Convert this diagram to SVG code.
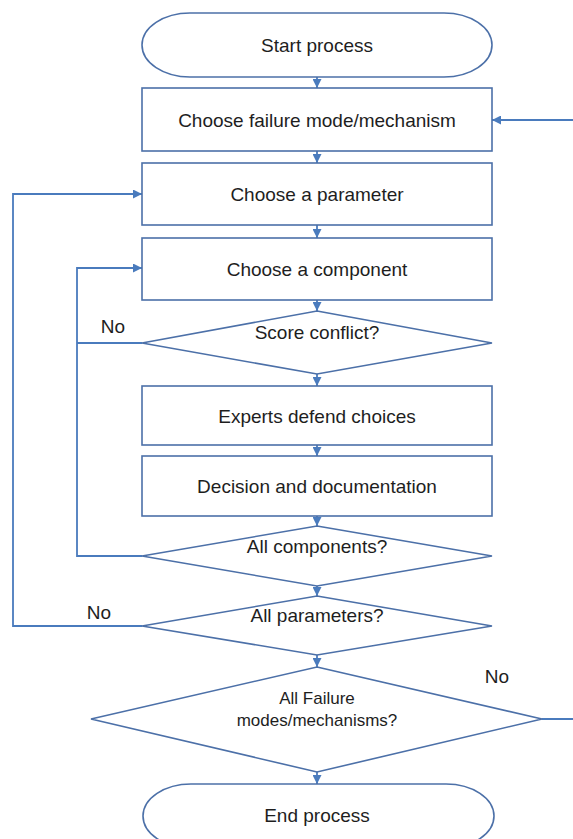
<svg xmlns="http://www.w3.org/2000/svg" width="573" height="839" viewBox="0 0 573 839">
<style>
.shape{fill:#ffffff;stroke:#4c70a8;stroke-width:1.6}
.conn{fill:none;stroke:#4a7bbd;stroke-width:1.8}
text{font-family:"Liberation Sans",Arial,sans-serif;font-size:19px;fill:#1e1e1e;text-anchor:middle}
.small{font-size:17px}
</style>
<defs>
<marker id="arr" viewBox="0 0 10 10" refX="10" refY="5" markerWidth="5" markerHeight="5" orient="auto" markerUnits="strokeWidth">
<path d="M0,0 L10,5 L0,10 Z" fill="#4a7bbd"/>
</marker>
</defs>
<rect width="573" height="839" fill="#ffffff"/>
<g id="connectors">
<line class="conn" x1="317" y1="77" x2="317" y2="88" marker-end="url(#arr)"/>
<line class="conn" x1="317" y1="151" x2="317" y2="163" marker-end="url(#arr)"/>
<line class="conn" x1="317" y1="225" x2="317" y2="238" marker-end="url(#arr)"/>
<line class="conn" x1="317" y1="300" x2="317" y2="311" marker-end="url(#arr)"/>
<line class="conn" x1="317" y1="374" x2="317" y2="386" marker-end="url(#arr)"/>
<line class="conn" x1="317" y1="445" x2="317" y2="456" marker-end="url(#arr)"/>
<line class="conn" x1="317" y1="516" x2="317" y2="526" marker-end="url(#arr)"/>
<line class="conn" x1="317" y1="586" x2="317" y2="596" marker-end="url(#arr)"/>
<line class="conn" x1="317" y1="655" x2="317" y2="667" marker-end="url(#arr)"/>
<line class="conn" x1="317" y1="772" x2="317" y2="784" marker-end="url(#arr)"/>
<polyline class="conn" points="142,343 77,343"/>
<polyline class="conn" points="142,556 77,556 77,268 142,268" marker-end="url(#arr)"/>
<polyline class="conn" points="142,626 13,626 13,194 142,194" marker-end="url(#arr)"/>
<polyline class="conn" points="542,719 576,719 576,120 492,120" marker-end="url(#arr)"/>
</g>
<g id="start">
<rect class="shape" x="142" y="13" width="350" height="64" rx="48" ry="32"/>
<text x="317" y="52">Start process</text>
</g>
<g id="choose-failure">
<rect class="shape" x="142" y="88" width="350" height="63"/>
<text x="317" y="127">Choose failure mode/mechanism</text>
</g>
<g id="choose-parameter">
<rect class="shape" x="142" y="163" width="350" height="62"/>
<text x="317" y="201">Choose a parameter</text>
</g>
<g id="choose-component">
<rect class="shape" x="142" y="238" width="350" height="62"/>
<text x="317" y="276">Choose a component</text>
</g>
<g id="score-conflict">
<polygon class="shape" points="317,311 492,343 317,374 142,343"/>
<text x="317" y="339">Score conflict?</text>
</g>
<g id="experts">
<rect class="shape" x="142" y="386" width="350" height="59"/>
<text x="317" y="423">Experts defend choices</text>
</g>
<g id="decision">
<rect class="shape" x="142" y="456" width="350" height="60"/>
<text x="317" y="493">Decision and documentation</text>
</g>
<g id="all-components">
<polygon class="shape" points="317,526 492,556 317,586 142,556"/>
<text x="317" y="553">All components?</text>
</g>
<g id="all-parameters">
<polygon class="shape" points="317,596 492,626 317,655 142,626"/>
<text x="317" y="622">All parameters?</text>
</g>
<g id="all-failure">
<polygon class="shape" points="317,667 542,719 317,772 91,719"/>
<text class="small" x="317" y="704">All Failure</text>
<text class="small" x="317" y="726">modes/mechanisms?</text>
</g>
<g id="end">
<rect class="shape" x="143" y="784" width="351" height="64" rx="48" ry="32"/>
<text x="317" y="822">End process</text>
</g>
<g id="labels">
<text x="113" y="333">No</text>
<text x="99" y="619">No</text>
<text x="497" y="683">No</text>
</g>
</svg>
